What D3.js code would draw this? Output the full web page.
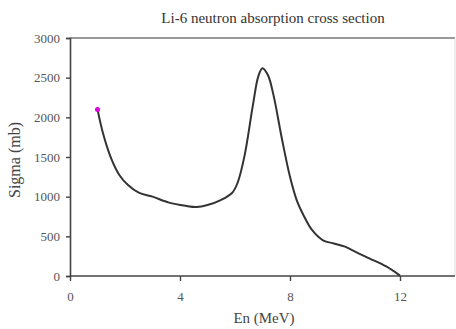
<!DOCTYPE html>
<html><head><meta charset="utf-8">
<script src="https://cdn.jsdelivr.net/npm/d3@7"></script>
<style>body{margin:0;background:#fff}svg{display:block}text{font-family:"Liberation Serif","DejaVu Serif",serif}</style>
</head><body>
<script>
const energy = [1.0,1.2,1.5,1.8,2.1,2.5,3.0,3.6,4.2,4.6,5.0,5.5,5.9,6.1,6.35,6.65,6.85,7.0,7.2,7.4,7.7,8.0,8.25,8.5,8.8,9.2,9.6,10.0,10.4,10.9,11.5,12.0];
const sigma  = [2100,1800,1480,1270,1150,1050,1000,925,885,870,895,960,1050,1180,1520,2150,2520,2620,2530,2280,1740,1250,950,760,580,450,410,370,300,220,120,5];
const xTicks = [0,4,8,12];
const yTicks = [0,500,1000,1500,2000,2500,3000];
const title = "Li-6 neutron absorption cross section";
const xLabel = "En (MeV)";
const yLabel = "Sigma (mb)";

const W=456,H=329, L=70, R=455, T=38, B=276;
const svg=d3.select("body").append("svg").attr("width",W).attr("height",H);
const x=d3.scaleLinear().domain([0,14]).range([L,R]);
const y=d3.scaleLinear().domain([0,3000]).range([B,T]);

svg.append("line").attr("x1",L).attr("x2",R).attr("y1",y(3000)).attr("y2",y(3000)).attr("stroke","#999").attr("stroke-width",2);
svg.append("line").attr("x1",R).attr("x2",R).attr("y1",T).attr("y2",B).attr("stroke","#ddd").attr("stroke-width",1);

const yAxis=svg.append("g").attr("transform",`translate(${L},0)`).call(d3.axisLeft(y).tickValues(yTicks).tickSize(4).tickPadding(6).tickFormat(d3.format("d")));
const xAxis=svg.append("g").attr("transform",`translate(0,${B})`).call(d3.axisBottom(x).tickValues(xTicks).tickSize(5).tickPadding(11).tickFormat(d3.format("d")));
[yAxis,xAxis].forEach(g=>{
  g.select(".domain").attr("stroke","#444").attr("stroke-width",1.6);
  g.selectAll(".tick line").attr("stroke","#444").attr("stroke-width",1.4);
  g.selectAll(".tick text").attr("fill","#555").style("font-size","13px").style("font-family","'Liberation Serif',serif");
});
xAxis.select(".domain").attr("d",`M${L},0H${R}`);

const data=energy.map((e,i)=>[e,sigma[i]]);
svg.append("path").datum(data).attr("fill","none").attr("stroke","#333").attr("stroke-width",2)
  .attr("d",d3.line().x(d=>x(d[0])).y(d=>y(d[1])).curve(d3.curveCatmullRom.alpha(0.5)));
svg.append("circle").attr("cx",x(energy[0])).attr("cy",y(sigma[0])).attr("r",2.5).attr("fill","#e000e0");

svg.append("text").attr("x",273).attr("y",23).attr("text-anchor","middle").attr("fill","#333").style("font-size","15px").text(title);
svg.append("text").attr("x",264).attr("y",323).attr("text-anchor","middle").attr("fill","#444").style("font-size","15px").text(xLabel);
svg.append("text").attr("transform","translate(20,160) rotate(-90)").attr("text-anchor","middle").attr("fill","#444").style("font-size","16px").text(yLabel);
</script>
</body></html>
